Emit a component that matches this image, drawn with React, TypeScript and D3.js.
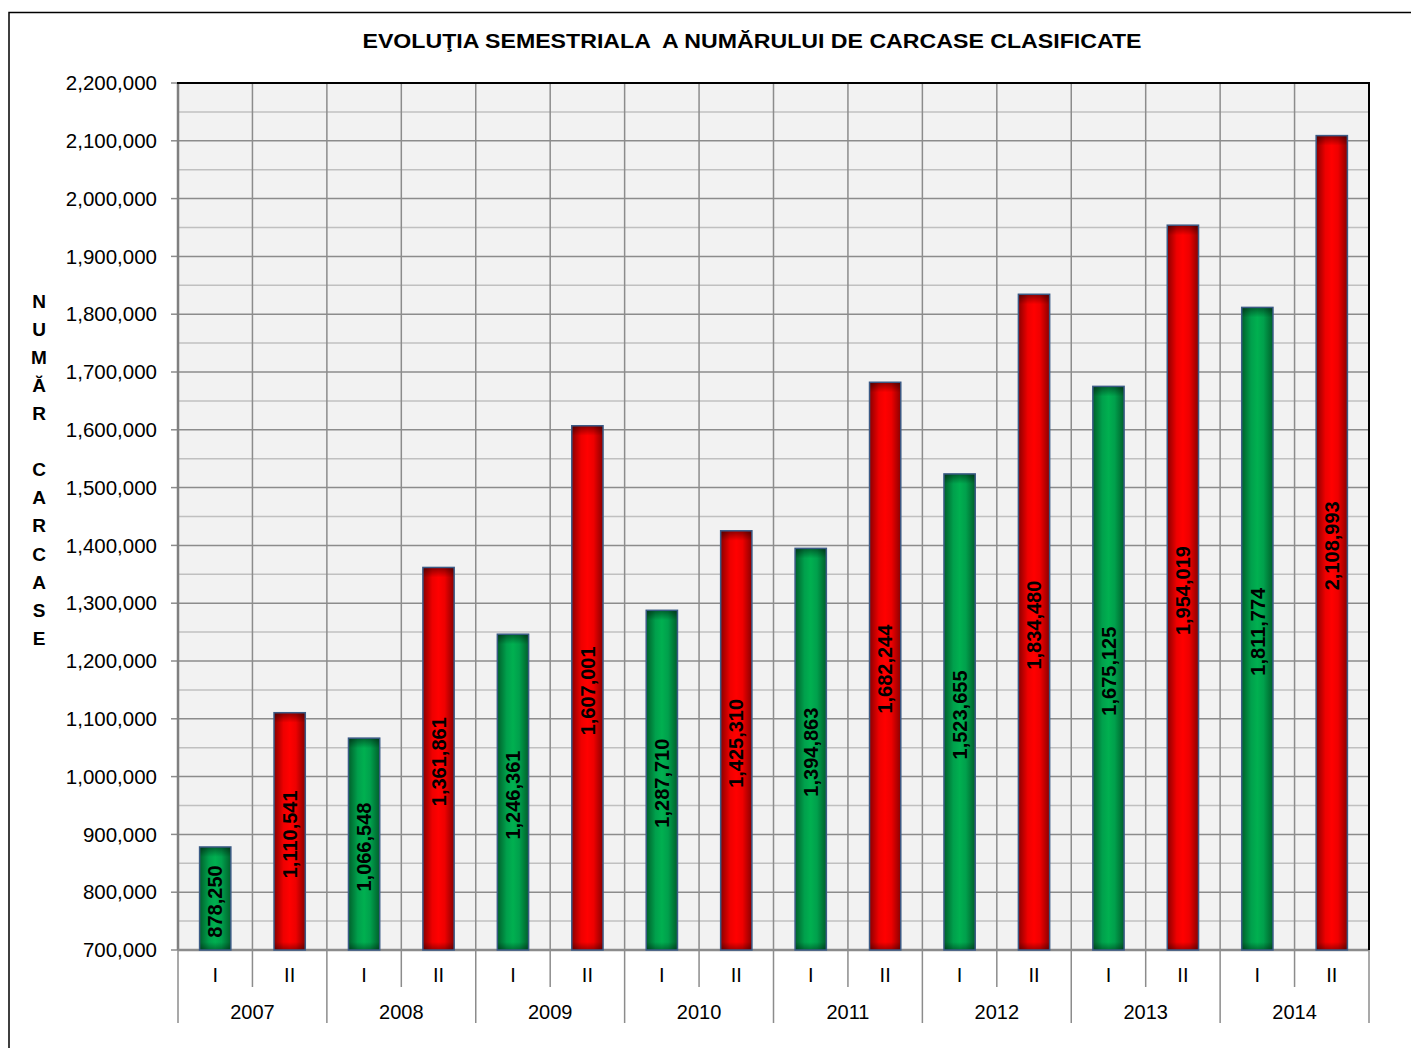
import React from 'react';
import * as d3 from 'd3';

const years = ['2007', '2008', '2009', '2010', '2011', '2012', '2013', '2014'];
const semesters = ['I', 'II'];
const values = [
  878250, 1110541, 1066548, 1361861, 1246361, 1607001, 1287710, 1425310,
  1394863, 1682244, 1523655, 1834480, 1675125, 1954019, 1811774, 2108993,
];
const yTicks = d3.range(700000, 2200001, 100000);
const yMinor = d3.range(750000, 2200000, 100000);
const axisTitle = ['N', 'U', 'M', 'Ă', 'R', '', 'C', 'A', 'R', 'C', 'A', 'S', 'E'];

const W = 1411;
const H = 1048;
const left = 178;
const right = 1369;
const top = 83;
const bottom = 950;

const fmt = d3.format(',');

export default function App() {
  const cats = values.map((_, i) => i);
  const x = d3.scaleBand<number>().domain(cats).range([left, right]).padding(0);
  const y = d3.scaleLinear().domain([700000, 2200000]).range([bottom, top]);
  const bw = x.bandwidth() * 0.42;

  return (
    <svg
      width={W}
      height={H}
      style={{ position: 'absolute', left: 0, top: 0, fontFamily: 'Liberation Sans, Arial, sans-serif' }}
    >
      <defs>
        <linearGradient id="gGreen" x1="0" x2="1" y1="0" y2="0">
          <stop offset="0" stopColor="#00602b" />
          <stop offset="0.3" stopColor="#00a04c" />
          <stop offset="0.5" stopColor="#00b050" />
          <stop offset="0.7" stopColor="#00a04c" />
          <stop offset="1" stopColor="#00602b" />
        </linearGradient>
        <linearGradient id="gRed" x1="0" x2="1" y1="0" y2="0">
          <stop offset="0" stopColor="#8a0000" />
          <stop offset="0.3" stopColor="#ee0000" />
          <stop offset="0.5" stopColor="#ff0000" />
          <stop offset="0.7" stopColor="#ee0000" />
          <stop offset="1" stopColor="#8a0000" />
        </linearGradient>
        <linearGradient id="shadeTop" x1="0" x2="0" y1="0" y2="1">
          <stop offset="0" stopColor="#000" stopOpacity="0.45" />
          <stop offset="1" stopColor="#000" stopOpacity="0" />
        </linearGradient>
        <linearGradient id="shadeBot" x1="0" x2="0" y1="1" y2="0">
          <stop offset="0" stopColor="#000" stopOpacity="0.35" />
          <stop offset="1" stopColor="#000" stopOpacity="0" />
        </linearGradient>
      </defs>

      {/* outer frame */}
      <rect x={9} y={12.5} width={1420} height={1060} fill="#fff" stroke="#000" strokeWidth={1.5} />

      <text
        x={752}
        y={48}
        textAnchor="middle"
        fontSize={20.5}
        fontWeight="bold"
        textLength={779}
        lengthAdjust="spacingAndGlyphs"
        style={{ whiteSpace: 'pre' }}
      >
        {'EVOLUŢIA SEMESTRIALA  A NUMĂRULUI DE CARCASE CLASIFICATE'}
      </text>

      {/* plot background */}
      <rect x={left} y={top} width={right - left} height={bottom - top} fill="#f2f2f2" />

      {/* minor grid */}
      {yMinor.map(v => (
        <line key={'m' + v} x1={left} x2={right} y1={y(v)} y2={y(v)} stroke="#c0c0c0" strokeWidth={1.5} />
      ))}
      {/* major grid */}
      {yTicks.map(v => (
        <line key={'g' + v} x1={left} x2={right} y1={y(v)} y2={y(v)} stroke="#8c8c8c" strokeWidth={1.5} />
      ))}
      {/* vertical grid + category separators */}
      {d3.range(0, values.length + 1).map(i => {
        const xx = i === values.length ? right : (x(i) as number);
        const yEnd = i % 2 === 0 ? 1023 : 987;
        return <line key={'v' + i} x1={xx} x2={xx} y1={top} y2={yEnd} stroke="#8c8c8c" strokeWidth={1.5} />;
      })}

      {/* y ticks and labels */}
      {yTicks.map(v => (
        <g key={'t' + v}>
          <line x1={171} x2={left} y1={y(v)} y2={y(v)} stroke="#8c8c8c" strokeWidth={1.5} />
          <text x={157} y={y(v)} dy="0.35em" textAnchor="end" fontSize={20.5} fill="#000">
            {fmt(v)}
          </text>
        </g>
      ))}

      {/* axis lines */}
      <line x1={left} x2={left} y1={top} y2={bottom} stroke="#808080" strokeWidth={2.5} />
      <line x1={left} x2={right} y1={bottom} y2={bottom} stroke="#8c8c8c" strokeWidth={2.5} />
      <line x1={left - 1} x2={right + 1} y1={top} y2={top} stroke="#000" strokeWidth={2} />
      <line x1={right} x2={right} y1={top} y2={bottom} stroke="#000" strokeWidth={2} />

      {/* bars */}
      {values.map((v, i) => {
        const cx = (x(i) as number) + x.bandwidth() / 2;
        const y0 = y(v);
        const h = bottom - y0;
        const fill = i % 2 === 0 ? 'url(#gGreen)' : 'url(#gRed)';
        return (
          <g key={'b' + i}>
            <rect x={cx - bw / 2} y={y0} width={bw} height={h} fill={fill} />
            <rect x={cx - bw / 2} y={y0} width={bw} height={Math.min(10, h)} fill="url(#shadeTop)" />
            <rect x={cx - bw / 2} y={bottom - Math.min(8, h)} width={bw} height={Math.min(8, h)} fill="url(#shadeBot)" />
            <rect x={cx - bw / 2} y={y0} width={bw} height={h} fill="none" stroke="#3b5b86" strokeWidth={1.5} />
            <text
              transform={`translate(${cx},${(y0 + bottom) / 2 + 3}) rotate(-90)`}
              textAnchor="middle"
              dy="0.36em"
              fontSize={20}
              fontWeight="bold"
              fill="#000"
            >
              {fmt(v)}
            </text>
          </g>
        );
      })}

      {/* x labels */}
      {values.map((_, i) => (
        <text
          key={'s' + i}
          x={(x(i) as number) + x.bandwidth() / 2}
          y={975}
          dy="0.35em"
          textAnchor="middle"
          fontSize={20}
        >
          {semesters[i % 2]}
        </text>
      ))}
      {years.map((yr, j) => (
        <text
          key={'y' + yr}
          x={(x(j * 2) as number) + x.bandwidth()}
          y={1012}
          dy="0.35em"
          textAnchor="middle"
          fontSize={20}
        >
          {yr}
        </text>
      ))}

      {/* vertical axis title */}
      {axisTitle.map((ch, k) => (
        <text key={'a' + k} x={39} y={301 + k * 28.1} dy="0.35em" textAnchor="middle" fontSize={19} fontWeight="bold">
          {ch}
        </text>
      ))}
    </svg>
  );
}
